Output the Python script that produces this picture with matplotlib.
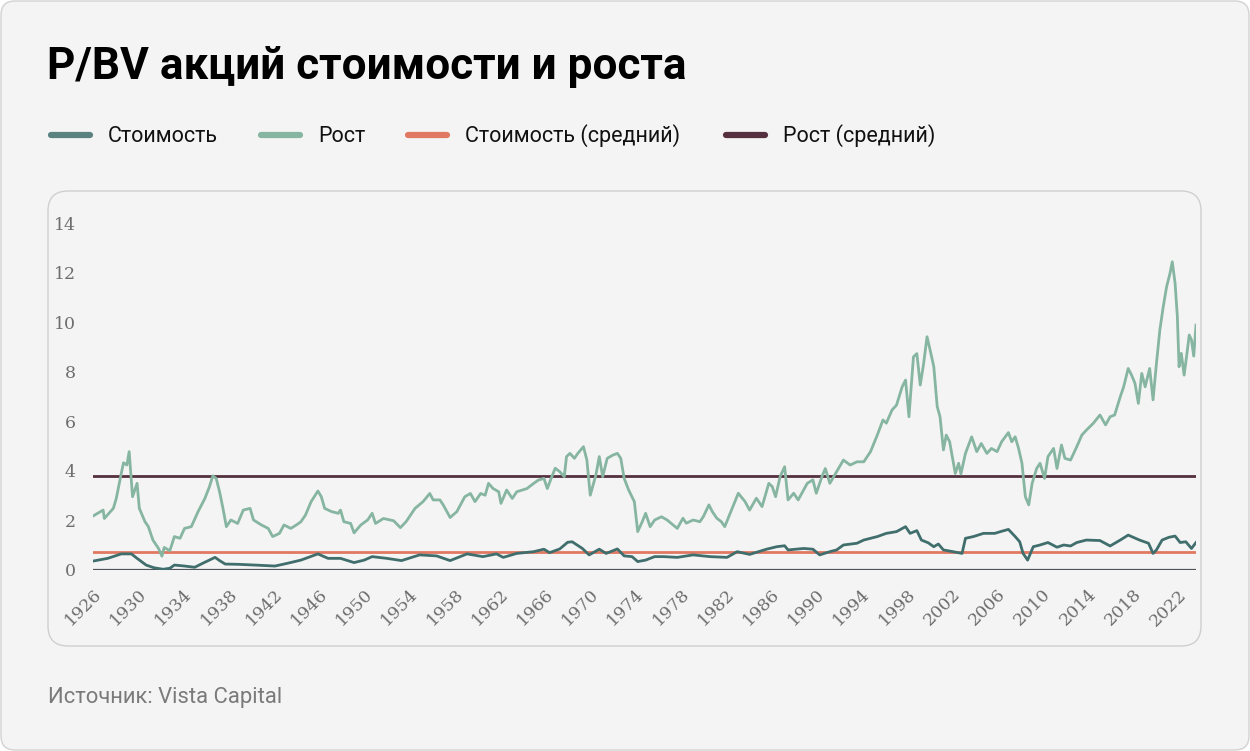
import matplotlib

matplotlib.use("Agg")

import matplotlib.pyplot as plt
import matplotlib.transforms as mtransforms
from matplotlib.lines import Line2D
from matplotlib.patches import FancyBboxPatch

# data (year, P/BV)
GROWTH_YEARS = [
    1926.0, 1926.9, 1927.0, 1927.8, 1928.06, 1928.5, 1928.7, 1929.0, 1929.2, 1929.5,
    1929.9, 1930.1, 1930.6, 1930.9, 1931.3, 1931.8, 1932.1, 1932.3, 1932.8, 1933.2,
    1933.7, 1934.1, 1934.7, 1935.3, 1935.9, 1936.3, 1936.6, 1936.9, 1937.2, 1937.5,
    1937.8, 1938.2, 1938.8, 1939.3, 1939.9, 1940.2, 1940.9, 1941.5, 1941.9, 1942.5,
    1942.9, 1943.5, 1944.0, 1944.4, 1944.8, 1945.3, 1945.9, 1946.2, 1946.5, 1947.1,
    1947.7, 1947.9, 1948.2, 1948.8, 1949.1, 1949.7, 1950.3, 1950.7, 1951.0, 1951.7,
    1952.6, 1953.2, 1953.7, 1954.5, 1955.2, 1955.8, 1956.1, 1956.7, 1957.0, 1957.6,
    1958.2, 1958.9, 1959.4, 1959.8, 1960.3, 1960.7, 1961.0, 1961.4, 1961.9, 1962.1,
    1962.6, 1963.1, 1963.5, 1964.4, 1965.0, 1965.4, 1965.9, 1966.2, 1966.6, 1966.9,
    1967.3, 1967.7, 1967.9, 1968.2, 1968.6, 1968.9, 1969.4, 1969.7, 1970.0, 1970.5,
    1970.8, 1971.1, 1971.5, 1972.0, 1972.4, 1972.7, 1973.0, 1973.4, 1973.9, 1974.2,
    1974.6, 1974.9, 1975.3, 1975.7, 1976.3, 1976.8, 1977.7, 1978.2, 1978.5, 1979.1,
    1979.7, 1980.0, 1980.5, 1980.8, 1981.2, 1981.6, 1981.9, 1982.5, 1983.1, 1983.7,
    1984.1, 1984.7, 1985.2, 1985.8, 1986.1, 1986.4, 1986.8, 1987.2, 1987.5, 1988.0,
    1988.4, 1989.2, 1989.7, 1990.0, 1990.5, 1990.8, 1991.2, 1991.8, 1992.4, 1993.0,
    1993.6, 1994.2, 1994.8, 1995.4, 1995.9, 1996.2, 1996.7, 1997.1, 1997.6, 1997.9,
    1998.2, 1998.6, 1998.9, 1999.2, 1999.5, 1999.8, 2000.07, 2000.4, 2000.7, 2000.95,
    2001.25, 2001.5, 2001.8, 2002.3, 2002.6, 2002.8, 2003.2, 2003.75, 2004.2, 2004.6,
    2005.1, 2005.5, 2006.0, 2006.4, 2007.0, 2007.3, 2007.6, 2007.9, 2008.2, 2008.5,
    2008.8, 2009.1, 2009.5, 2009.8, 2010.2, 2010.5, 2011.0, 2011.3, 2011.7, 2012.0,
    2012.5, 2013.05, 2013.5, 2013.9, 2014.5, 2015.1, 2015.6, 2016.0, 2016.4, 2016.9,
    2017.2, 2017.6, 2017.9, 2018.2, 2018.5, 2018.8, 2019.1, 2019.5, 2019.8, 2020.1,
    2020.4, 2020.7, 2021.0, 2021.3, 2021.5, 2021.75, 2021.95, 2022.1, 2022.3, 2022.55,
    2022.8, 2023.0, 2023.2, 2023.4, 2023.6,
]
GROWTH_VALUES = [
    2.18, 2.42, 2.08, 2.49, 2.89, 3.90, 4.33, 4.24, 4.78, 2.96,
    3.50, 2.49, 1.95, 1.75, 1.21, 0.87, 0.56, 0.91, 0.78, 1.35,
    1.28, 1.68, 1.75, 2.36, 2.89, 3.36, 3.80, 3.70, 3.16, 2.49,
    1.75, 2.02, 1.88, 2.42, 2.49, 2.02, 1.82, 1.68, 1.35, 1.48,
    1.82, 1.68, 1.82, 1.95, 2.22, 2.76, 3.19, 2.96, 2.49, 2.36,
    2.29, 2.42, 1.95, 1.88, 1.50, 1.82, 2.02, 2.29, 1.88, 2.08,
    1.99, 1.71, 1.95, 2.49, 2.76, 3.09, 2.83, 2.83, 2.62, 2.12,
    2.36, 2.96, 3.09, 2.76, 3.09, 3.02, 3.50, 3.29, 3.16, 2.69,
    3.23, 2.89, 3.16, 3.29, 3.50, 3.63, 3.70, 3.29, 3.77, 4.11,
    3.97, 3.77, 4.58, 4.71, 4.51, 4.71, 4.98, 4.44, 3.02, 3.84,
    4.58, 3.77, 4.51, 4.64, 4.71, 4.51, 3.70, 3.23, 2.76, 1.55,
    1.95, 2.29, 1.75, 2.02, 2.15, 2.02, 1.68, 2.09, 1.89, 2.02,
    1.95, 2.15, 2.63, 2.36, 2.09, 1.95, 1.75, 2.42, 3.10, 2.76,
    2.42, 2.90, 2.56, 3.50, 3.37, 2.96, 3.77, 4.17, 2.83, 3.10,
    2.83, 3.50, 3.64, 3.10, 3.77, 4.10, 3.50, 3.97, 4.44, 4.24,
    4.37, 4.37, 4.78, 5.45, 6.06, 5.93, 6.46, 6.66, 7.40, 7.67,
    6.19, 8.61, 8.74, 7.47, 8.34, 9.42, 8.89, 8.21, 6.60, 6.19,
    4.85, 5.45, 5.18, 3.90, 4.31, 3.88, 4.71, 5.38, 4.78, 5.11,
    4.71, 4.91, 4.78, 5.18, 5.55, 5.18, 5.38, 4.91, 4.31, 2.96,
    2.63, 3.50, 4.10, 4.31, 3.70, 4.58, 4.91, 4.10, 5.05, 4.51,
    4.44, 4.98, 5.45, 5.65, 5.92, 6.26, 5.86, 6.19, 6.26, 7.00,
    7.40, 8.14, 7.87, 7.54, 6.73, 7.94, 7.40, 8.14, 6.87, 8.34,
    9.69, 10.63, 11.44, 11.98, 12.45, 11.58, 10.23, 8.21, 8.75, 7.87,
    8.75, 9.49, 9.29, 8.64, 9.89,
]

VALUE_YEARS = [
    1926.0, 1927.3, 1928.5, 1929.4, 1929.9, 1930.7, 1931.4, 1932.2, 1932.8, 1933.2,
    1934.1, 1935.0, 1935.7, 1936.8, 1937.2, 1937.7, 1938.8, 1940.3, 1942.1, 1943.2,
    1944.4, 1945.9, 1946.8, 1947.9, 1949.1, 1950.0, 1950.7, 1952.0, 1953.3, 1954.9,
    1956.4, 1957.6, 1959.1, 1960.5, 1961.7, 1962.3, 1963.5, 1965.0, 1965.9, 1966.4,
    1967.3, 1968.0, 1968.4, 1969.3, 1969.9, 1970.8, 1971.4, 1972.4, 1973.0, 1973.7,
    1974.2, 1974.9, 1975.7, 1976.5, 1977.7, 1979.1, 1980.6, 1982.1, 1983.0, 1984.1,
    1985.6, 1986.5, 1987.2, 1987.5, 1988.9, 1989.7, 1990.3, 1991.2, 1991.8, 1992.4,
    1993.6, 1994.2, 1995.4, 1996.2, 1997.1, 1997.9, 1998.3, 1998.9, 1999.3, 1999.9,
    2000.4, 2000.8, 2001.25, 2002.1, 2002.9, 2003.2, 2003.9, 2004.8, 2005.8, 2006.3,
    2007.0, 2007.6, 2008.0, 2008.3, 2008.7, 2009.2, 2009.8, 2010.5, 2011.3, 2011.9,
    2012.5, 2013.05, 2013.9, 2015.1, 2016.0, 2016.9, 2017.6, 2018.6, 2019.4, 2019.8,
    2020.1, 2020.6, 2021.2, 2021.75, 2022.2, 2022.7, 2023.2, 2023.6,
]
VALUE_VALUES = [
    0.36, 0.47, 0.65, 0.65, 0.47, 0.20, 0.09, 0.03, 0.07, 0.20,
    0.16, 0.11, 0.27, 0.51, 0.38, 0.24, 0.23, 0.20, 0.16, 0.27,
    0.40, 0.65, 0.47, 0.47, 0.30, 0.40, 0.54, 0.47, 0.38, 0.61,
    0.57, 0.38, 0.65, 0.54, 0.65, 0.51, 0.67, 0.74, 0.84, 0.70,
    0.85, 1.12, 1.14, 0.87, 0.61, 0.84, 0.67, 0.85, 0.57, 0.54,
    0.34, 0.40, 0.54, 0.54, 0.51, 0.61, 0.54, 0.51, 0.74, 0.63,
    0.84, 0.94, 0.98, 0.81, 0.87, 0.84, 0.61, 0.74, 0.81, 1.01,
    1.08, 1.21, 1.35, 1.48, 1.55, 1.75, 1.48, 1.59, 1.21, 1.10,
    0.94, 1.05, 0.81, 0.74, 0.67, 1.28, 1.35, 1.48, 1.48, 1.55,
    1.64, 1.35, 1.14, 0.67, 0.40, 0.94, 1.01, 1.11, 0.92, 1.01,
    0.97, 1.11, 1.21, 1.19, 0.97, 1.21, 1.41, 1.21, 1.08, 0.67,
    0.81, 1.21, 1.32, 1.37, 1.11, 1.14, 0.87, 1.11,
]

VALUE_MEAN = 0.74
GROWTH_MEAN = 3.80
TICK_YEARS = list(range(1926, 2023, 4))
Y_TICKS = [0, 2, 4, 6, 8, 10, 12, 14]

TITLE = "P/BV акций стоимости и роста"
LEGEND_LABELS = ["Стоимость", "Рост", "Стоимость (средний)", "Рост (средний)"]
SOURCE = "Источник: Vista Capital"

C_VALUE = "#3f6e6c"
C_GROWTH = "#86b5a1"
C_VALUE_MEAN = "#e07862"
C_GROWTH_MEAN = "#55303f"
C_BG = "#f4f4f4"
C_TICK = "#6e6e6e"

W_PX, H_PX = 1250, 751
DPI = 100


def fx(px):
    return px / W_PX


def fy(py):
    return 1 - py / H_PX


def main():
    plt.rcParams["font.family"] = ["Roboto", "DejaVu Sans"]
    fig = plt.figure(figsize=(W_PX / DPI, H_PX / DPI), dpi=DPI, facecolor="white")

    # outer card and inner chart card (pixel-based via inches), kept behind the axes
    fig.patches.append(FancyBboxPatch(
        (0.01, 0.01), W_PX / DPI - 0.02, H_PX / DPI - 0.02,
        boxstyle="round,pad=0,rounding_size=0.14",
        transform=fig.dpi_scale_trans, facecolor=C_BG, edgecolor="#d2d2d2",
        linewidth=1.0, zorder=-2,
    ))
    fig.patches.append(FancyBboxPatch(
        (48 / DPI, (H_PX - 646) / DPI), 1153 / DPI, 455 / DPI,
        boxstyle="round,pad=0,rounding_size=0.2",
        transform=fig.dpi_scale_trans, facecolor=C_BG, edgecolor="#cfcfcf",
        linewidth=1.0, zorder=-1,
    ))

    fig.text(fx(47), fy(67), TITLE, fontsize=31.8, fontweight="bold",
             color="black", ha="left", va="center")

    # legend drawn by hand to match item spacing
    legend_items = [
        (48, LEGEND_LABELS[0], C_VALUE, 0.85),
        (258, LEGEND_LABELS[1], C_GROWTH, 1.0),
        (405, LEGEND_LABELS[2], C_VALUE_MEAN, 1.0),
        (723, LEGEND_LABELS[3], C_GROWTH_MEAN, 1.0),
    ]
    for x0, label, color, alpha in legend_items:
        fig.add_artist(Line2D([fx(x0 + 3), fx(x0 + 42)], [fy(135), fy(135)],
                              transform=fig.transFigure, color=color, alpha=alpha,
                              linewidth=4.5, solid_capstyle="round"))
        fig.text(fx(x0 + 60), fy(136), label, fontsize=15.5, color="#111111",
                 ha="left", va="center")

    fig.text(fx(48), fy(698), SOURCE, fontsize=15.8, color="#7a7a7a",
             ha="left", va="center")

    ax = fig.add_axes([fx(93), fy(570), fx(1196) - fx(93), fy(215) - fy(570)])
    ax.set_facecolor("none")
    ax.set_xlim(1926.0, 2023.6)
    ax.set_ylim(0, (570 - 215) / 24.76)

    ax.axhline(0, color="#4f5458", linewidth=1.6, zorder=2)
    ax.axhline(VALUE_MEAN, color=C_VALUE_MEAN, linewidth=2.0, zorder=3)
    ax.axhline(GROWTH_MEAN, color=C_GROWTH_MEAN, linewidth=2.0, zorder=3)
    ax.plot(GROWTH_YEARS, GROWTH_VALUES, color=C_GROWTH, linewidth=2.0, zorder=4)
    ax.plot(VALUE_YEARS, VALUE_VALUES, color=C_VALUE, linewidth=2.0, zorder=5)

    for spine in ax.spines.values():
        spine.set_visible(False)

    ax.set_yticks(Y_TICKS)
    ax.set_yticklabels([str(v) for v in Y_TICKS], family="DejaVu Serif",
                       fontsize=12.5, color=C_TICK)
    ax.set_xticks(TICK_YEARS)
    ax.set_xticklabels([str(y) for y in TICK_YEARS], family="DejaVu Serif",
                       fontsize=12.5, color=C_TICK, rotation=45, ha="right",
                       va="top", rotation_mode="anchor")
    shift = mtransforms.ScaledTranslation(-10 / DPI, 0, fig.dpi_scale_trans)
    for label in ax.get_xticklabels():
        label.set_transform(label.get_transform() + shift)
    ax.tick_params(axis="y", length=0, pad=12.5)
    ax.tick_params(axis="x", length=0, pad=11.5)

    fig.savefig("out.png", dpi=DPI, facecolor="white")
    plt.close(fig)


if __name__ == "__main__":
    main()
